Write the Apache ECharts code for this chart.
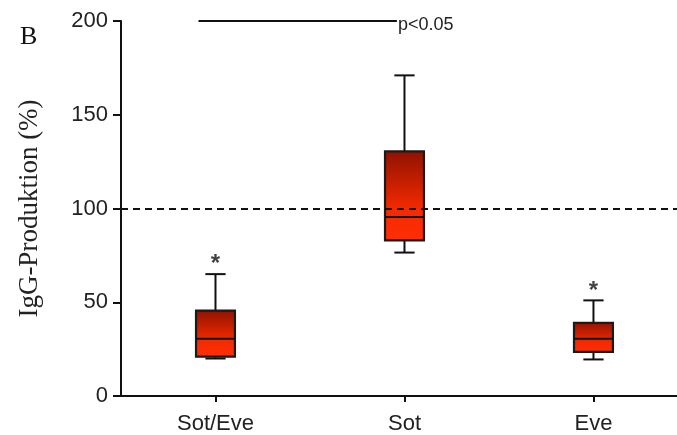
<!DOCTYPE html>
<html>
<head>
<meta charset="utf-8">
<script src="https://cdn.jsdelivr.net/npm/echarts@6/dist/echarts.min.js"></script>
<style>
  html, body { margin: 0; padding: 0; background: #fff; }
  #chart { width: 677px; height: 435px; }
</style>
</head>
<body>
<div id="chart"></div>
<script>
// Groups on the x axis (placed at positions 0, 1, 2)
const categories = ['Sot/Eve', 'Sot', 'Eve'];
const groupPos = [0, 1, 2];
// Five-number summaries per group (IgG production, % of control)
const lowWhisker  = [20, 76.5, 19.5];
const q1          = [21, 83, 23.5];
const median      = [30.5, 95.5, 30.5];
const q3          = [45.5, 130.5, 39];
const highWhisker = [65, 171, 51];
// Control level
const controlLevel = 100;
// Significance asterisks above groups (null = none)
const starY = [73, null, 58.5];
// Bracket for the pairwise comparison (in group-position units) and its text
const bracketX = [-0.09, 0.96];
const bracketY = 200;
const bracketText = 'p<0.05';
// Axis ranges; the x range runs on past the last group, cut by the right border
const xMin = -0.5, xMax = 2.442;
const yMin = 0, yMax = 200, yStep = 50;

const boxData = groupPos.map((p, i) => [p, lowWhisker[i], q1[i], median[i], q3[i], highWhisker[i]]);
const starData = starY.map((v, i) => v == null ? null : [groupPos[i], v]).filter(Boolean);

const chart = echarts.init(document.getElementById('chart'));
const INK = '#111';
const SANS = '"Liberation Sans", Arial, sans-serif';
const SERIF = '"Liberation Serif", "Times New Roman", serif';

function renderBox(params, api) {
  const i = api.value(0);
  const pLow = api.coord([i, api.value(1)]);
  const pQ1 = api.coord([i, api.value(2)]);
  const pMed = api.coord([i, api.value(3)]);
  const pQ3 = api.coord([i, api.value(4)]);
  const pHigh = api.coord([i, api.value(5)]);
  const unit = api.size([1, 0])[0];
  const half = unit * 0.103;
  const cap = half * 0.52;
  const x = pMed[0];
  const line = (x1, y1, x2, y2) => ({
    type: 'line',
    shape: { x1, y1, x2, y2 },
    style: { stroke: INK, lineWidth: 2 }
  });
  return {
    type: 'group',
    children: [
      line(x, pQ3[1], x, pHigh[1]),
      line(x - cap, pHigh[1], x + cap, pHigh[1]),
      line(x, pQ1[1], x, pLow[1]),
      line(x - cap, pLow[1], x + cap, pLow[1]),
      {
        type: 'rect',
        shape: { x: x - half, y: pQ3[1], width: half * 2, height: pQ1[1] - pQ3[1] },
        style: {
          fill: new echarts.graphic.LinearGradient(0, 0, 0, 1, [
            { offset: 0, color: '#8e1200' },
            { offset: 0.65, color: '#f52a00' },
            { offset: 1, color: '#ff2e05' }
          ]),
          stroke: '#1a1a1a',
          lineWidth: 2.2
        }
      },
      line(x - half, pMed[1], x + half, pMed[1])
    ]
  };
}

chart.setOption({
  animation: false,
  backgroundColor: '#fff',
  grid: { left: 121, right: 0, top: 21, bottom: 39, containLabel: false },
  graphic: [{
    type: 'text',
    left: 20, top: 24,
    style: { text: 'B', font: '26px ' + SERIF, fill: '#111' }
  }],
  xAxis: {
    type: 'value',
    min: xMin, max: xMax,
    axisLine: { show: true, onZero: false, lineStyle: { color: INK, width: 2 } },
    axisTick: { show: true, customValues: groupPos, length: 6, lineStyle: { color: INK, width: 2 } },
    axisLabel: {
      customValues: groupPos,
      formatter: v => categories[Math.round(v)],
      color: '#222', fontSize: 22, fontFamily: SANS, margin: 17
    },
    splitLine: { show: false }
  },
  yAxis: {
    type: 'value',
    min: yMin, max: yMax, interval: yStep,
    name: 'IgG-Produktion (%)',
    nameLocation: 'middle',
    nameGap: 78,
    nameTextStyle: { color: '#222', fontSize: 27, fontFamily: SERIF },
    axisLine: { show: true, onZero: false, lineStyle: { color: INK, width: 2 } },
    axisTick: { show: true, length: 8, lineStyle: { color: INK, width: 2 } },
    axisLabel: { color: '#222', fontSize: 22, fontFamily: SANS, margin: 13 },
    splitLine: { show: false }
  },
  series: [{
    type: 'custom',
    renderItem: renderBox,
    encode: { x: 0, y: [1, 2, 3, 4, 5] },
    data: boxData,
    z: 3,
    markLine: {
      silent: true,
      symbol: 'none',
      label: { show: false },
      lineStyle: { color: INK, type: [7, 5], width: 2 },
      data: [{ yAxis: controlLevel }]
    }
  }, {
    type: 'scatter',
    data: starData,
    symbolSize: 0,
    label: {
      show: true,
      position: 'inside',
      formatter: '*',
      color: '#111',
      fontSize: 24,
      fontWeight: 'bold',
      fontFamily: SANS,
      offset: [0, 5]
    },
    z: 4
  }, {
    type: 'line',
    data: bracketX.map(x => [x, bracketY]),
    symbol: 'none',
    clip: false,
    lineStyle: { color: INK, width: 2 },
    endLabel: {
      show: true,
      formatter: bracketText,
      color: '#222',
      fontSize: 18,
      fontFamily: SANS,
      distance: 1,
      offset: [0, 4]
    },
    z: 4
  }]
});
</script>
</body>
</html>
